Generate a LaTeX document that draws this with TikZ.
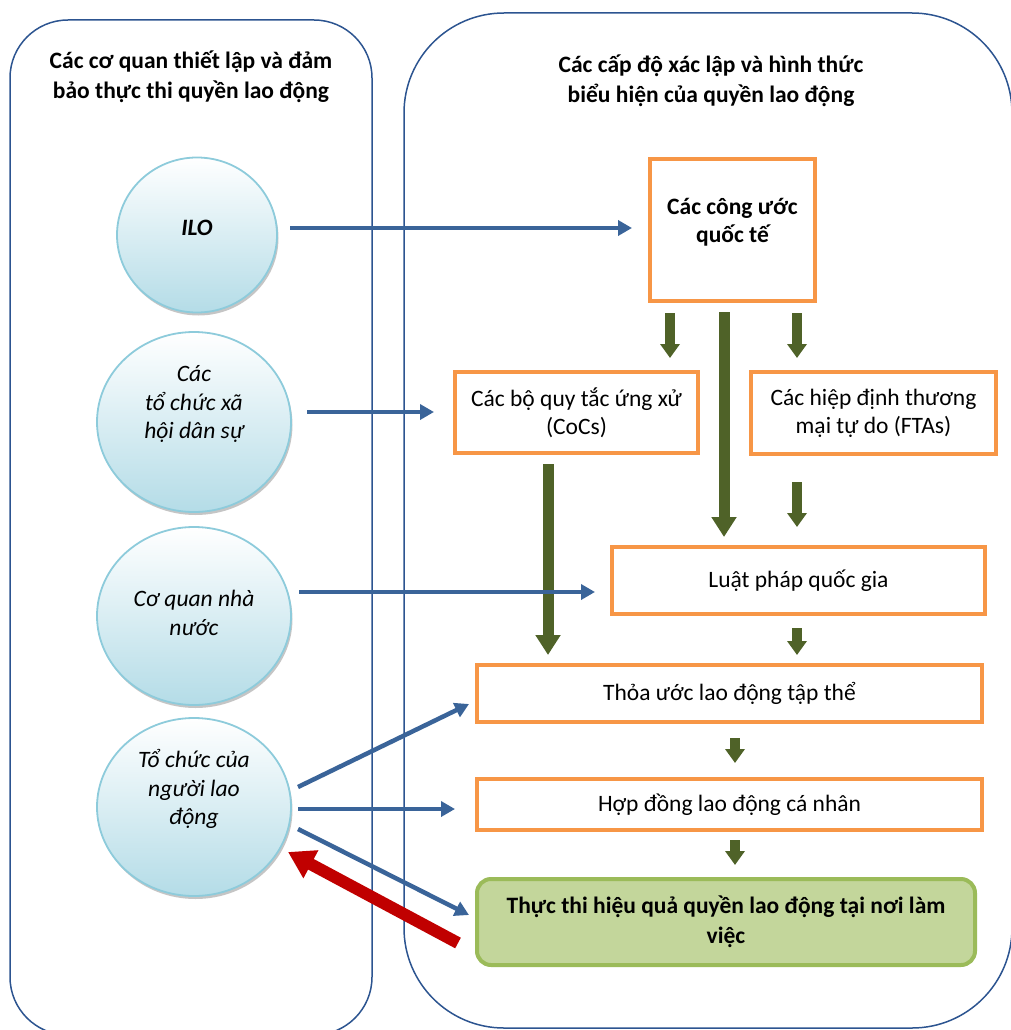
\documentclass[tikz,border=0pt]{standalone}
\usepackage{fontspec}
\setmainfont{Carlito}
\usetikzlibrary{shapes.geometric,arrows.meta,shadows}
\definecolor{panelblue}{RGB}{44,84,144}
\definecolor{arrowblue}{RGB}{58,100,153}
\definecolor{orangeb}{RGB}{247,150,70}
\definecolor{arrowgreen}{RGB}{79,98,40}
\definecolor{arrowred}{RGB}{192,0,0}
\definecolor{gfill}{RGB}{195,214,155}
\definecolor{gedge}{RGB}{155,187,89}
\definecolor{bubedge}{RGB}{141,203,219}
\definecolor{bubfill}{RGB}{180,220,231}
\begin{document}
\begin{tikzpicture}[x=1pt,y=-1pt,
  every node/.style={font=\fontsize{23.5}{29}\selectfont},
  panel/.style={draw=panelblue, line width=1.5pt, inner sep=0pt, outer sep=0pt},
  ttl/.style={align=center, font=\fontsize{23.5}{30}\selectfont\bfseries},
  bubble/.style={ellipse, draw=bubedge, line width=1.8pt, top color=white, bottom color=bubfill,
     inner sep=0pt, outer sep=0pt,
     drop shadow={shadow xshift=1.5pt, shadow yshift=-3pt, fill=black!45, opacity=0.5}},
  btext/.style={align=center, font=\fontsize{23.5}{28.5}\selectfont\itshape},
  obox/.style={draw=orangeb, line width=4pt, fill=white, inner sep=0pt, outer sep=0pt, align=center},
  gbox/.style={draw=gedge, fill=gfill, line width=4pt, rounded corners=14pt, inner sep=0pt, outer sep=0pt,
     align=center, font=\fontsize{23.5}{30}\selectfont\bfseries},
  barrow/.style={draw=arrowblue, line width=4.5pt, -{Triangle[length=14pt,width=15pt]}},
  garrow/.style={draw=arrowgreen, line width=9.5pt, -{Triangle[length=14pt,width=19pt]}},
  glong/.style={draw=arrowgreen, line width=11pt, -{Triangle[length=20pt,width=24pt]}},
  rarrow/.style={draw=arrowred, line width=12pt, -{Triangle[length=26pt,width=30pt]}}
]
\useasboundingbox (0,0) rectangle (1011,1030);
\begin{scope}
\clip (0,0) rectangle (1011,1030);
% panels
\node[panel, rounded corners=58pt, minimum width=362pt, minimum height=1015pt] (lp) at (191,527.5) {};
\node[panel, rounded corners=100pt, minimum width=608pt, minimum height=1015pt] (rp) at (708,520.5) {};
\end{scope}
\node[ttl] (lt) at (191,77) {Các cơ quan thiết lập và đảm\\bảo thực thi quyền lao động};
\node[ttl] (rt) at (711,81) {Các cấp độ xác lập và hình thức\\biểu hiện của quyền lao động};

% bubbles
\node[bubble, minimum width=160pt, minimum height=155pt] (ilo) at (197,235) {};
\node[btext, font=\fontsize{23.5}{28.5}\selectfont\bfseries\itshape] (ilot) at (197,228) {ILO};
\node[bubble, minimum width=194pt, minimum height=180pt] (cso) at (194,422) {};
\node[btext] (csot) at (194,404) {Các\\tổ chức xã\\hội dân sự};
\node[bubble, minimum width=194pt, minimum height=178pt] (st) at (194,616) {};
\node[btext] (stt) at (194,613) {Cơ quan nhà\\nước};
\node[bubble, minimum width=194pt, minimum height=178pt] (wk) at (194,807) {};
\node[btext] (wkt) at (194,789) {Tổ chức của\\người lao\\động};

% boxes
\node[obox, minimum width=165pt, minimum height=142pt] (B1) at (732.5,230) {};
\node[align=center, font=\fontsize{23.5}{28}\selectfont\bfseries] (B1t) at (732.5,222) {Các công ước\\quốc tế};
\node[obox, minimum width=243pt, minimum height=81pt, font=\fontsize{23.5}{28}\selectfont] (B2) at (576.5,412.5) {Các bộ quy tắc ứng xử\\(CoCs)};
\node[obox, minimum width=245pt, minimum height=82pt, font=\fontsize{23.5}{28}\selectfont] (B3) at (873.5,413) {Các hiệp định thương\\mại tự do (FTAs)};
\node[obox, minimum width=373pt, minimum height=67pt] (B4) at (798.5,580.5) {Luật pháp quốc gia};
\node[obox, minimum width=505pt, minimum height=57pt] (B5) at (729.5,693.5) {Thỏa ước lao động tập thể};
\node[obox, minimum width=505pt, minimum height=51pt] (B6) at (729.5,804.5) {Hợp đồng lao động cá nhân};
\node[gbox, minimum width=498pt, minimum height=86pt] (G) at (726,922) {Thực thi hiệu quả quyền lao động tại nơi làm\\việc};

% green arrows
\draw[garrow] ([shift={(-62.5,12)}]B1.south) -- ([shift={(93.5,-14)}]B2.north);
\draw[garrow] ([shift={(64.5,12)}]B1.south) -- ([shift={(-76.5,-14)}]B3.north);
\draw[glong] ([shift={(-8.5,11)}]B1.south) -- ([shift={(-74.5,-10)}]B4.north);
\draw[glong] ([shift={(-28.5,11)}]B2.south) -- ([shift={(-181.5,-10)}]B5.north);
\draw[garrow] ([shift={(-76.5,28)}]B3.south) -- ([shift={(-1.5,-20)}]B4.north);
\draw[garrow] ([shift={(-1.5,14)}]B4.south) -- ([shift={(67.5,-10)}]B5.north);
\draw[garrow] ([shift={(5.5,16)}]B5.south) -- ([shift={(5.5,-16)}]B6.north);
\draw[garrow] ([shift={(5.5,10)}]B6.south) -- ([shift={(9,-14)}]G.north);

% blue arrows
\draw[barrow] ([shift={(13,-7)}]ilo.east) -- ([shift={(-18,-2)}]B1.west);
\draw[barrow] ([shift={(16,-10)}]cso.east) -- ([shift={(-21,-0.5)}]B2.west);
\draw[barrow] ([shift={(8,-24)}]st.east) -- ([shift={(-17,11.5)}]B4.west);
\draw[barrow] ([shift={(7,-20)}]wk.east) -- ([shift={(-8,10.5)}]B5.west);
\draw[barrow] ([shift={(7,2)}]wk.east) -- ([shift={(-22,4.5)}]B6.west);
\draw[barrow] ([shift={(7,22)}]wk.east) -- ([shift={(-8,-7)}]G.west);
% red arrow
\draw[rarrow] ([shift={(-19,21)}]G.west) -- ([shift={(-3,45)}]wk.east);
\end{tikzpicture}
\end{document}
